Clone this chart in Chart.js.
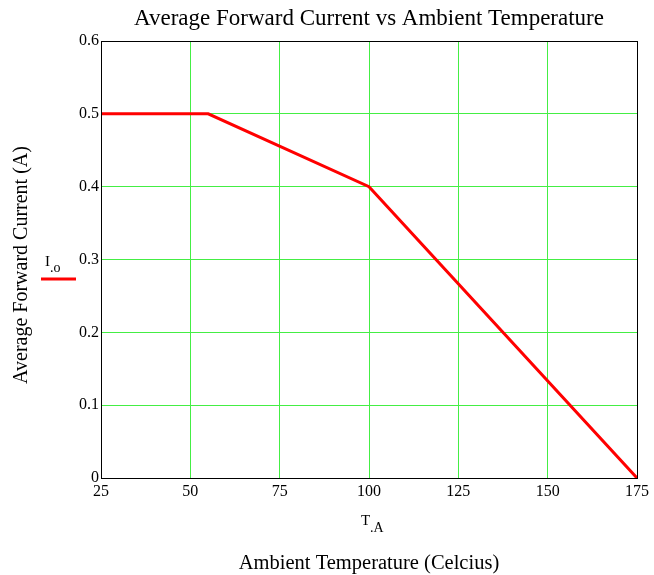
<!DOCTYPE html>
<html>
<head>
<meta charset="utf-8">
<script src="https://cdn.jsdelivr.net/npm/chart.js@4"></script>
<style>
  html, body { margin: 0; padding: 0; background: #fff; }
  #wrap { width: 654px; height: 575px; }
</style>
</head>
<body>
<div id="wrap"><canvas id="myChart" width="654" height="575"></canvas></div>
<script>
// data
var tempA = [25, 55, 100, 175];
var currentIo = [0.5, 0.5, 0.4, 0];
var xTicks = [25, 50, 75, 100, 125, 150, 175];
var yTicks = [0, 0.1, 0.2, 0.3, 0.4, 0.5, 0.6];

var serif = "'Liberation Serif', 'Times New Roman', serif";

// extra labels: title, legend and axis captions
var labelsPlugin = {
   id: 'labels',
   afterDraw: function (chart) {
      var c = chart.ctx, a = chart.chartArea;
      c.save();
      c.strokeStyle = '#000';
      c.lineWidth = 1;
      c.strokeRect(a.left + 0.5, a.top + 0.5, a.right - a.left, a.bottom - a.top);

      c.fillStyle = '#000';
      c.textAlign = 'center';
      c.textBaseline = 'alphabetic';
      c.font = '23px ' + serif;
      c.fillText('Average Forward Current vs Ambient Temperature', (a.left + a.right) / 2, 25);

      c.font = '20.5px ' + serif;
      c.fillText('Ambient Temperature (Celcius)', (a.left + a.right) / 2, 569);

      // T.A
      c.font = '15px ' + serif;
      c.textAlign = 'left';
      c.fillText('T', 361, 525);
      c.font = '14px ' + serif;
      c.fillText('.A', 370, 532);

      // I.o legend
      c.font = '15px ' + serif;
      c.fillText('I', 45, 266);
      c.font = '14px ' + serif;
      c.fillText('.o', 50, 272);
      c.strokeStyle = '#ff0000';
      c.lineWidth = 3;
      c.beginPath();
      c.moveTo(41, 279);
      c.lineTo(76, 279);
      c.stroke();

      // y axis title
      c.translate(27, 265);
      c.rotate(-Math.PI / 2);
      c.textAlign = 'center';
      c.fillStyle = '#000';
      c.font = '20px ' + serif;
      c.fillText('Average Forward Current (A)', 0, 0);
      c.restore();
   }
};

var chrt = document.getElementById("myChart").getContext("2d");
var chartId = new Chart(chrt, {
   type: 'line',
   data: {
      datasets: [{
         label: 'I.o',
         data: tempA.map(function (t, i) { return { x: t, y: currentIo[i] }; }),
         borderColor: '#ff0000',
         borderWidth: 3,
         pointRadius: 0,
         tension: 0,
         fill: false,
      }],
   },
   options: {
      responsive: false,
      animation: false,
      layout: { padding: { top: 41, right: 17, bottom: 0, left: 0 } },
      plugins: {
         legend: { display: false },
         title: { display: false },
         tooltip: { enabled: false },
      },
      scales: {
         x: {
            type: 'linear',
            min: 25,
            max: 175,
            afterBuildTicks: function (s) { s.ticks = xTicks.map(function (v) { return { value: v }; }); },
            afterFit: function (s) { s.height = 97; },
            grid: { color: '#44ee44', lineWidth: 1, drawTicks: false },
            border: { color: '#000', width: 1 },
            ticks: {
               color: '#000',
               padding: 4,
               maxRotation: 0,
               font: { family: serif, size: 16 },
            },
         },
         y: {
            min: 0,
            max: 0.6,
            afterBuildTicks: function (s) { s.ticks = yTicks.map(function (v) { return { value: v }; }); },
            afterFit: function (s) { s.width = 101; },
            grid: { color: '#44ee44', lineWidth: 1, drawTicks: false },
            border: { color: '#000', width: 1 },
            ticks: {
               color: '#000',
               padding: 2,
               font: { family: serif, size: 16 },
               callback: function (v) { return v === 0 ? '0' : v.toFixed(1); },
            },
         },
      },
   },
   plugins: [labelsPlugin],
});
</script>
</body>
</html>
